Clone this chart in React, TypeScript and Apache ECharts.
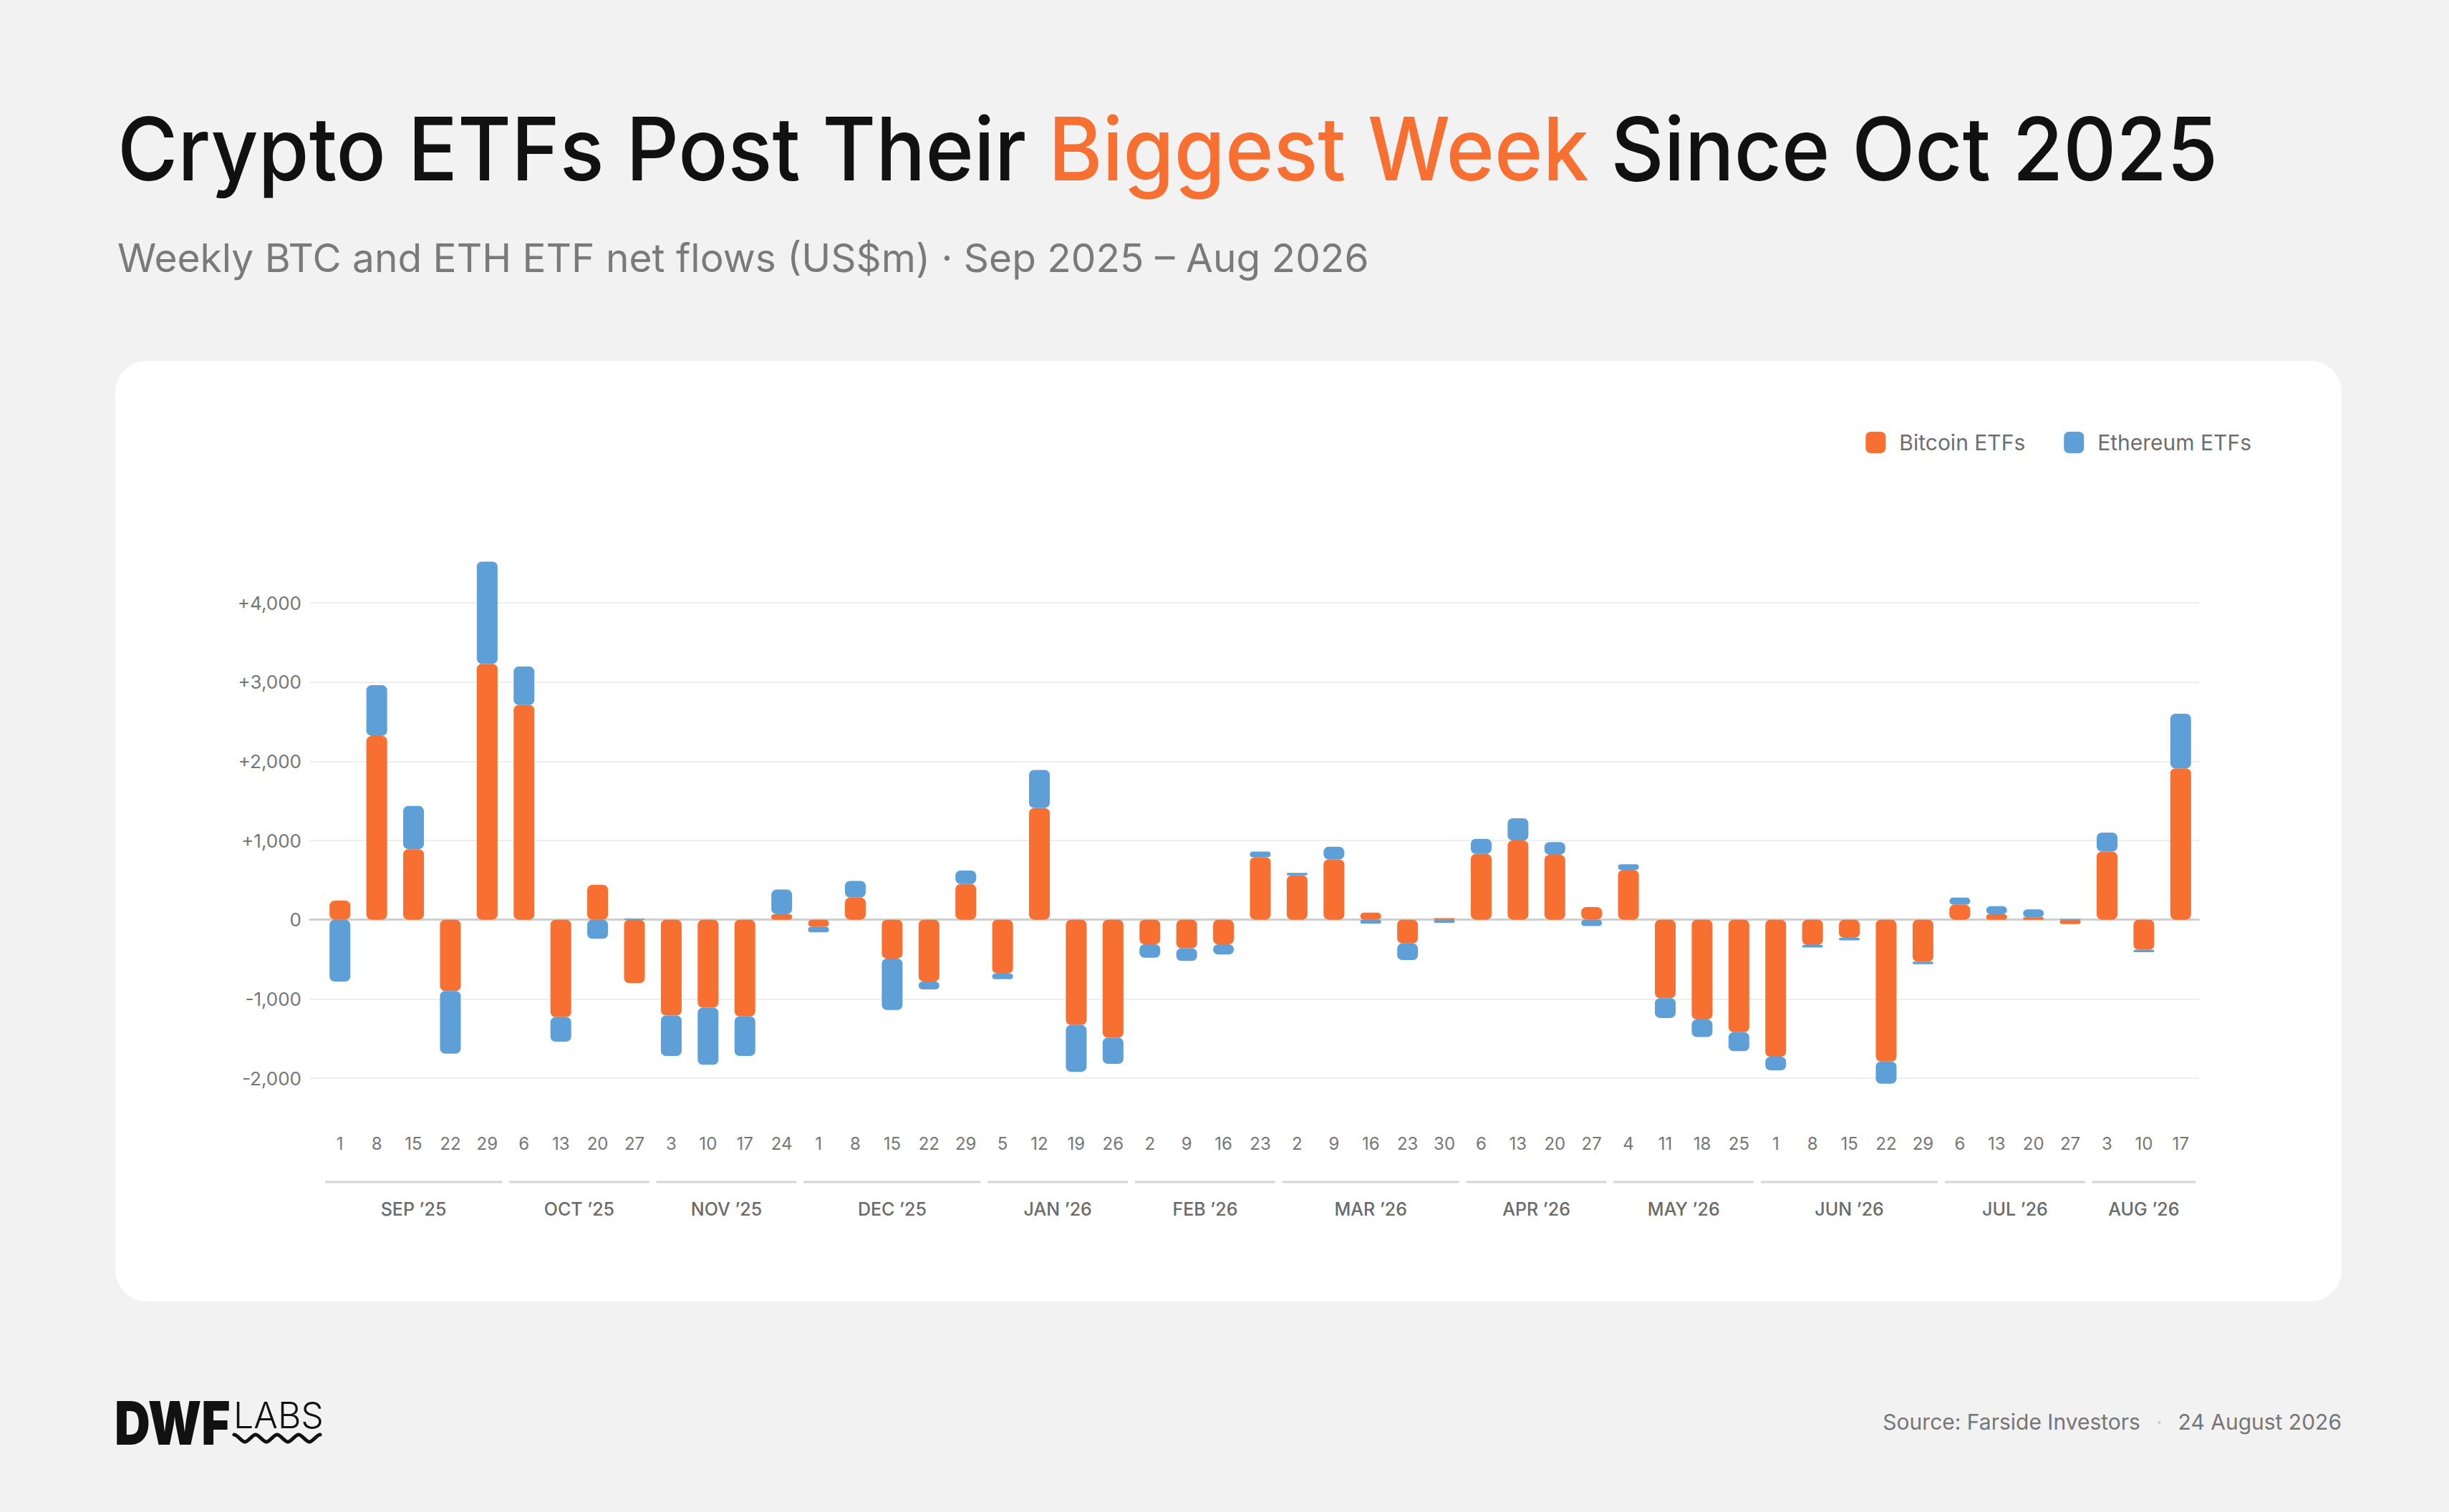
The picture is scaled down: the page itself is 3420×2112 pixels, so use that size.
import React, { useEffect, useRef } from "react";
import * as echarts from "echarts";

// ---------- DATA ----------
const weeks = [
  "2025-09-01", "2025-09-08", "2025-09-15", "2025-09-22", "2025-09-29",
  "2025-10-06", "2025-10-13", "2025-10-20", "2025-10-27",
  "2025-11-03", "2025-11-10", "2025-11-17", "2025-11-24",
  "2025-12-01", "2025-12-08", "2025-12-15", "2025-12-22", "2025-12-29",
  "2026-01-05", "2026-01-12", "2026-01-19", "2026-01-26",
  "2026-02-02", "2026-02-09", "2026-02-16", "2026-02-23",
  "2026-03-02", "2026-03-09", "2026-03-16", "2026-03-23", "2026-03-30",
  "2026-04-06", "2026-04-13", "2026-04-20", "2026-04-27",
  "2026-05-04", "2026-05-11", "2026-05-18", "2026-05-25",
  "2026-06-01", "2026-06-08", "2026-06-15", "2026-06-22", "2026-06-29",
  "2026-07-06", "2026-07-13", "2026-07-20", "2026-07-27",
  "2026-08-03", "2026-08-10", "2026-08-17",
];

const btcFlows = [
  240, 2320, 890, -900, 3230,
  2710, -1230, 440, -800,
  -1210, -1110, -1220, 70,
  -90, 280, -490, -780, 450,
  -680, 1410, -1330, -1490,
  -310, -360, -310, 790,
  560, 760, 90, -300, 20,
  830, 1000, 820, 160,
  630, -990, -1260, -1420,
  -1730, -320, -230, -1790, -530,
  190, 70, 30, -55,
  860, -380, 1910,
];

const ethFlows = [
  -780, 640, 545, -790, 1290,
  485, -310, -240, 15,
  -510, -720, -500, 310,
  -70, 210, -650, -100, 170,
  -70, 480, -590, -330,
  -170, -160, -130, 70,
  30, 160, -50, -210, -40,
  190, 280, 160, -80,
  70, -250, -220, -240,
  -170, -30, -30, -280, -30,
  90, 100, 100, 10,
  240, -30, 690,
];

const seriesNames = ["Bitcoin ETFs", "Ethereum ETFs"];
const yMin = -2000;
const yMax = 4000;
const yStep = 1000;
const monthAbbr = ["JAN", "FEB", "MAR", "APR", "MAY", "JUN", "JUL", "AUG", "SEP", "OCT", "NOV", "DEC"];

// ---------- STYLE ----------
const ORANGE = "#F86F32";
const BLUE = "#5E9FD8";
const FONT = "Inter, 'Noto Sans', sans-serif";
const GREY = "#767676";

const W = 3420;
const H = 2112;
const PLOT_TOP = 842;
const PLOT_H = 664;
const BAR_LEFT = 449;
const PLOT_RIGHT = 3071;
const GRID_LEFT = 433;

echarts.graphic.registerShape(
  "dwfWave",
  echarts.graphic.extendPath(
    "M0,2 C5,2 10,12 15,12 C20,12 25,2 30,2 C35,2 40,12 45,12 C50,12 55,2 60,2 C65,2 70,12 75,12 C80,12 85,2 90,2 C95,2 100,12 105,12 C110,12 115,2 120,2",
    {}
  ) as any
);

function fmtY(v: number): string {
  if (v === 0) return "0";
  const s = Math.abs(v).toLocaleString("en-US");
  return v > 0 ? "+" + s : "-" + s;
}

function monthGroups() {
  const groups: { key: string; first: number; last: number }[] = [];
  weeks.forEach((w, i) => {
    const key = w.slice(0, 7);
    const g = groups[groups.length - 1];
    if (g && g.key === key) g.last = i;
    else groups.push({ key, first: i, last: i });
  });
  return groups;
}

export default function App() {
  const ref = useRef<HTMLDivElement>(null);

  useEffect(() => {
    document.body.style.margin = "0";
    const chart = echarts.init(ref.current!, null, { renderer: "svg", width: W, height: H });

    const option: any = {
      animation: false,
      backgroundColor: "transparent",
      legend: {
        data: seriesNames,
        right: 271,
        top: 598,
        icon: "roundRect",
        itemWidth: 28,
        itemHeight: 30,
        itemGap: 54,
        selectedMode: false,
        textStyle: { fontSize: 30, color: "#6e6e6e", fontFamily: FONT, padding: [0, 0, 0, 14] },
      },
      grid: [
        { left: GRID_LEFT, top: PLOT_TOP, width: PLOT_RIGHT - GRID_LEFT, height: PLOT_H },
        { left: BAR_LEFT, top: PLOT_TOP, width: PLOT_RIGHT - BAR_LEFT, height: PLOT_H },
      ],
      xAxis: [
        {
          type: "value",
          gridIndex: 0,
          min: 0,
          max: 1,
          axisLine: { show: true, onZero: true, lineStyle: { color: "#cfcfcf", width: 3 } },
          axisTick: { show: false },
          axisLabel: { show: false },
          splitLine: { show: false },
        },
        {
          type: "category",
          gridIndex: 1,
          data: weeks,
          axisLine: { show: false },
          axisTick: { show: false },
          splitLine: { show: false },
          axisLabel: {
            interval: 0,
            margin: 79,
            fontSize: 24,
            lineHeight: 24,
            color: GREY,
            fontFamily: FONT,
            formatter: (v: string) => String(Number(v.slice(8))),
          },
        },
      ],
      yAxis: [
        {
          type: "value",
          gridIndex: 0,
          min: yMin,
          max: yMax,
          interval: yStep,
          axisLine: { show: false },
          axisTick: { show: false },
          axisLabel: { margin: 12, fontSize: 26, color: GREY, fontFamily: FONT, formatter: fmtY },
          splitLine: {
            lineStyle: {
              color: ["#eeeeee", "#eeeeee", "#cfcfcf", "#eeeeee", "#eeeeee", "#eeeeee", "#eeeeee"],
              width: 2,
            },
          },
        },
        {
          type: "value",
          gridIndex: 1,
          min: yMin,
          max: yMax,
          interval: yStep,
          show: false,
          splitLine: { show: false },
        },
      ],
      series: [
        {
          name: seriesNames[0],
          type: "bar",
          stack: "flows",
          xAxisIndex: 1,
          yAxisIndex: 1,
          data: btcFlows,
          barWidth: 29,
          clip: false,
          itemStyle: { color: ORANGE, borderRadius: 7 },
        },
        {
          name: seriesNames[1],
          type: "bar",
          stack: "flows",
          xAxisIndex: 1,
          yAxisIndex: 1,
          data: ethFlows,
          barWidth: 29,
          clip: false,
          itemStyle: { color: BLUE, borderRadius: 7 },
        },
      ],
    };
    chart.setOption(option);

    const px = (i: number) => chart.convertToPixel({ xAxisIndex: 1 }, i) as number;
    const cw = px(1) - px(0);
    const monthEls: any[] = [];
    monthGroups().forEach((g, k) => {
      const x1 = px(g.first) - cw / 2 + 5;
      const x2 = px(g.last) + cw / 2 - 5;
      const yy = g.key.slice(2, 4);
      const mm = Number(g.key.slice(5, 7));
      monthEls.push({
        type: "line",
        id: "mline" + k,
        shape: { x1, y1: 1651, x2, y2: 1651 },
        style: { stroke: "#d5d5d5", lineWidth: 3 },
      });
      monthEls.push({
        type: "text",
        id: "mtext" + k,
        x: (x1 + x2) / 2,
        y: 1689,
        style: {
          text: monthAbbr[mm - 1] + " \u2019" + yy,
          fill: "#6a6a6a",
          fontSize: 25,
          fontWeight: 500,
          fontFamily: FONT,
          align: "center",
          verticalAlign: "middle",
        },
      });
    });

    const staticEls: any[] = [
      {
        type: "text",
        id: "title",
        x: 164,
        y: 208,
        scaleX: 0.942,
        style: {
          text: "{a|Crypto ETFs Post Their }{b|Biggest Week}{a| Since Oct 2025}",
          verticalAlign: "middle",
          align: "left",
          rich: {
            a: { fontSize: 122, fontWeight: 500, fontFamily: FONT, fill: "#111111" },
            b: { fontSize: 122, fontWeight: 500, fontFamily: FONT, fill: ORANGE },
          },
        },
      },
      {
        type: "text",
        id: "subtitle",
        x: 164,
        y: 360,
        style: {
          text: "Weekly BTC and ETH ETF net flows (US$m) \u00b7 Sep 2025 \u2013 Aug 2026",
          fontSize: 55,
          fontFamily: FONT,
          fill: "#7a7a7a",
          align: "left",
          verticalAlign: "middle",
        },
      },
      {
        type: "text",
        id: "logoDWF",
        x: 160,
        y: 1988,
        scaleX: 0.82,
        style: {
          text: "DWF",
          fontSize: 84,
          fontWeight: 900,
          fontFamily: FONT,
          fill: "#111111",
          align: "left",
          verticalAlign: "middle",
        },
      },
      {
        type: "text",
        id: "logoLABS",
        x: 326,
        y: 1977,
        style: {
          text: "LABS",
          fontSize: 50,
          fontWeight: 300,
          fontFamily: FONT,
          fill: "#111111",
          align: "left",
          verticalAlign: "middle",
        },
      },
      {
        type: "dwfWave",
        id: "logoWave",
        x: 327,
        y: 2002,
        style: { stroke: "#111111", lineWidth: 5, fill: "none", lineCap: "round" },
      },
      {
        type: "text",
        id: "footer",
        x: 3270,
        y: 1986,
        style: {
          text: "{s|Source: Farside Investors}{d|\u00b7}{s|24 August 2026}",
          align: "right",
          verticalAlign: "middle",
          rich: {
            s: { fontSize: 30, fontFamily: FONT, fill: "#767676" },
            d: { fontSize: 30, fontFamily: FONT, fill: "#cccccc", padding: [0, 22, 0, 22] },
          },
        },
      },
    ];

    chart.setOption({ graphic: [...staticEls, ...monthEls] });

    return () => chart.dispose();
  }, []);

  return (
    <div style={{ position: "relative", width: W, height: H, background: "#f2f2f2", overflow: "hidden" }}>
      <div
        style={{
          position: "absolute",
          left: 161,
          top: 504,
          width: 3109,
          height: 1314,
          borderRadius: 44,
          background: "#ffffff",
        }}
      />
      <div ref={ref} style={{ position: "absolute", left: 0, top: 0, width: W, height: H }} />
    </div>
  );
}
